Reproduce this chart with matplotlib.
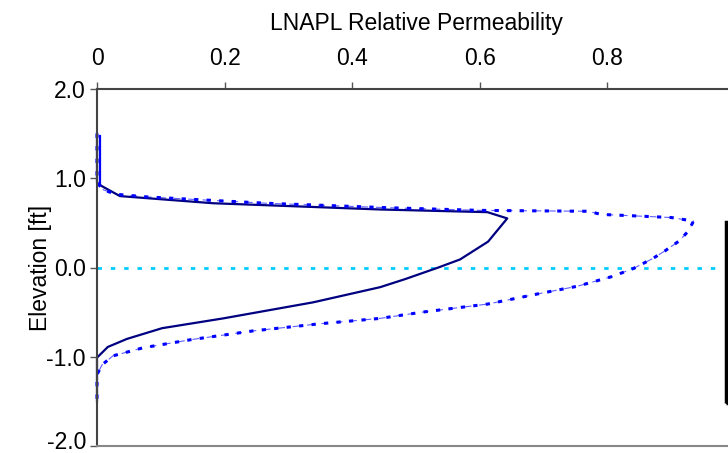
import matplotlib
matplotlib.use("Agg")
import matplotlib.pyplot as plt
import matplotlib.transforms as mtransforms
from matplotlib.patches import Rectangle
from matplotlib.ticker import FormatStrFormatter

plt.rcParams['font.family'] = ['Liberation Sans', 'DejaVu Sans']

# LNAPL relative permeability profiles (kr vs elevation in ft)
navy_kr = [0, 0, 0.008, 0.036, 0.182, 0.444, 0.612, 0.643, 0.613, 0.569, 0.535,
           0.483, 0.444, 0.339, 0.198, 0.102, 0.047, 0.017, 0, 0]
navy_el = [1.5, 0.95, 0.91, 0.80, 0.72, 0.65, 0.62, 0.55, 0.29, 0.09, 0.0,
           -0.13, -0.22, -0.39, -0.57, -0.68, -0.80, -0.89, -1.01, -1.5]

dot_kr = [0, 0, 0.01, 0.03, 0.08, 0.265, 0.455, 0.6, 0.77, 0.79, 0.90, 0.935,
          0.927, 0.913, 0.891, 0.871, 0.841, 0.808, 0.753, 0.695, 0.612, 0.51,
          0.444, 0.35, 0.245, 0.146, 0.072, 0.025, 0.008, 0, 0]
dot_el = [1.5, 0.95, 0.87, 0.82, 0.79, 0.72, 0.67, 0.64, 0.63, 0.595, 0.56, 0.52,
          0.41, 0.30, 0.19, 0.10, -0.01, -0.10, -0.21, -0.29, -0.41, -0.50,
          -0.57, -0.63, -0.71, -0.81, -0.90, -0.99, -1.09, -1.2, -1.5]

stem_kr = [0.004, 0.004]
stem_el = [1.47, 0.95]

water_kr = [0, 0.97]
water_el = [0, 0]

xticks = [0, 0.2, 0.4, 0.6, 0.8, 1.0]
xlabels = ["0", "0.2", "0.4", "0.6", "0.8", ""]
yticks = [-2, -1, 0, 1, 2]

fig = plt.figure(figsize=(7.28, 4.53), dpi=100)
ax = fig.add_axes([97 / 728, 7 / 453, 638 / 728, 357 / 453])

ax.plot(water_kr, water_el, color='#00CCFF', lw=2.0, dashes=(1.6, 3.2), solid_capstyle='butt')
ax.plot(dot_kr, dot_el, color='#6060FF', lw=0.8, dashes=(6, 7), clip_on=False)
ax.plot(navy_kr, navy_el, color='#000080', lw=1.6, clip_on=False)
ax.plot(dot_kr, dot_el, color='#0000FF', lw=2.2, dashes=(1.4, 2.7), dash_capstyle='butt',
        clip_on=False)
ax.plot(stem_kr, stem_el, color='#0000FF', lw=1.6, clip_on=False, zorder=3)

ax.set_xlim(0, 1)
ax.set_ylim(-2, 2)
ax.xaxis.tick_top()
ax.xaxis.set_label_position('top')
ax.set_xticks(xticks)
ax.set_xticklabels(xlabels)
ax.set_yticks(yticks)
ax.yaxis.set_major_formatter(FormatStrFormatter('%.1f'))
ax.tick_params(axis='both', labelsize=16.5, direction='out', length=5, width=1,
               color='#555555')
ax.tick_params(axis='x', pad=9)
ax.tick_params(axis='y', pad=3)
ax.set_xlabel("LNAPL Relative Permeability", fontsize=16.5)
ax.set_ylabel("Elevation [ft]", fontsize=16.5)
ax.xaxis.set_label_coords(0.5, 1.165)
ax.yaxis.set_label_coords(-0.07, 0.5)

# nudge the bottom tick label up so it stays on the canvas
lab = ax.get_yticklabels()[0]
lab.set_transform(lab.get_transform() +
                  mtransforms.ScaledTranslation(0, 6 / 100, fig.dpi_scale_trans))

for s in ['left', 'top']:
    ax.spines[s].set_color('#444444')
    ax.spines[s].set_linewidth(1.5)
ax.spines['bottom'].set_color('#888888')
ax.spines['bottom'].set_linewidth(1.5)
ax.spines['right'].set_visible(False)

# legend frame, mostly outside the visible area
fig.patches.append(Rectangle((725.5 / 728, 50 / 453), 80 / 728, 181 / 453,
                             transform=fig.transFigure, fill=False,
                             edgecolor='black', lw=2.5))

fig.savefig("out.png", dpi=100)
